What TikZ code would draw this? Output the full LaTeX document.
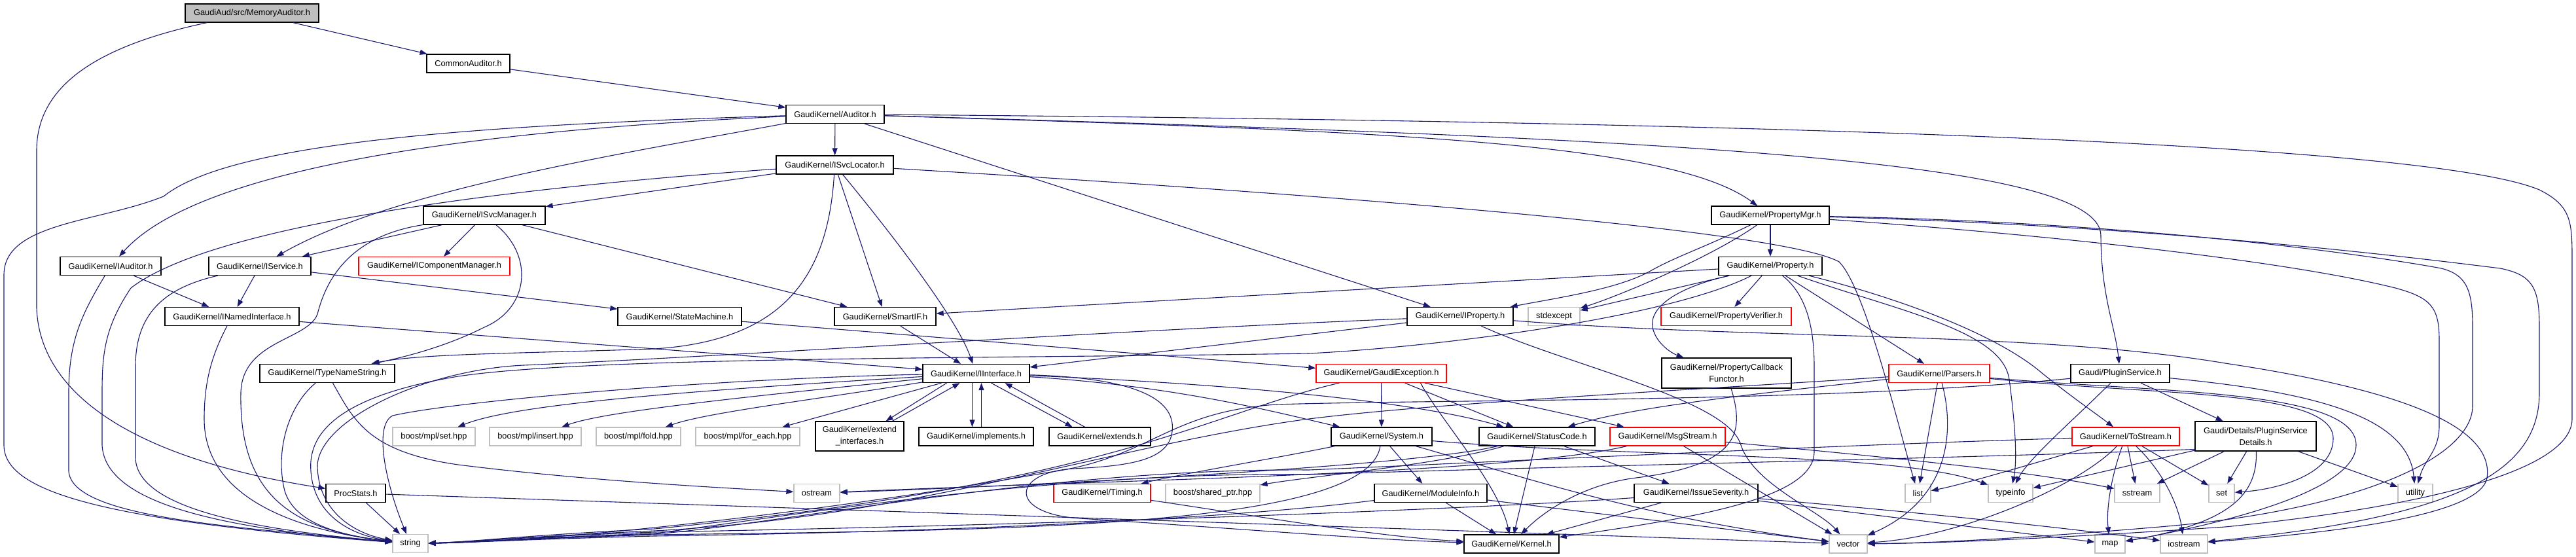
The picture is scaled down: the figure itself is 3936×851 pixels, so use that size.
\documentclass[tikz,border=0pt]{standalone}
\usepackage{fontspec}
\setmainfont{Liberation Sans}
\usetikzlibrary{arrows.meta}
\definecolor{eb}{RGB}{25,25,112}
\definecolor{grayb}{RGB}{191,191,191}
\definecolor{redb}{RGB}{255,0,0}
\newcommand{\nodefont}{\fontsize{12.8pt}{18pt}\selectfont}
\begin{document}
\begin{tikzpicture}[x=1pt,y=-1pt,
  nd/.style={draw=black,fill=white,line width=1.3pt,minimum height=28pt,inner sep=0pt,font=\nodefont,align=center},
  rednd/.style={nd,draw=redb},
  sysnd/.style={nd,draw=grayb},
  rootnd/.style={nd,fill=grayb},
  dep/.style={draw=eb,line width=1.1pt,-{Triangle[length=11pt,width=8pt]}}]
\fill[white] (0,0) rectangle (3936,851);
\useasboundingbox (0,0) rectangle (3936,851);

% ---------------- nodes ----------------
\node[rootnd,minimum width=204pt] (mem) at (385,20) {GaudiAud/src/MemoryAuditor.h};
\node[nd,minimum width=127pt] (common) at (715.5,97) {CommonAuditor.h};
\node[nd,minimum width=150pt] (auditor) at (1276,174.5) {GaudiKernel/Auditor.h};
\node[nd,minimum width=179pt] (isvcloc) at (1275.5,252) {GaudiKernel/ISvcLocator.h};
\node[nd,minimum width=186pt] (isvcmgr) at (740,329) {GaudiKernel/ISvcManager.h};
\node[nd,minimum width=180pt] (propmgr) at (2705,329) {GaudiKernel/PropertyMgr.h};
\node[nd,minimum width=154pt] (iauditor) at (169,406.5) {GaudiKernel/IAuditor.h};
\node[nd,minimum width=156pt] (iservice) at (397,406.5) {GaudiKernel/IService.h};
\node[rednd,minimum width=231pt] (icompmgr) at (663.5,406.5) {GaudiKernel/IComponentManager.h};
\node[nd,minimum width=158pt] (property) at (2705,406.5) {GaudiKernel/Property.h};
\node[nd,minimum width=205pt] (inamed) at (354.5,483.5) {GaudiKernel/INamedInterface.h};
\node[nd,minimum width=189pt] (statemachine) at (1038.5,483.5) {GaudiKernel/StateMachine.h};
\node[nd,minimum width=155pt] (smartif) at (1352.5,483.5) {GaudiKernel/SmartIF.h};
\node[nd,minimum width=162pt] (iproperty) at (2231,483.5) {GaudiKernel/IProperty.h};
\node[sysnd,minimum width=79pt] (stdexcept) at (2374.5,483.5) {stdexcept};
\node[rednd,minimum width=199pt] (propverifier) at (2637.5,483.5) {GaudiKernel/PropertyVerifier.h};
\node[nd,minimum width=206pt] (typename) at (500,570.5) {GaudiKernel/TypeNameString.h};
\node[nd,minimum width=163pt] (iinterface) at (1491.5,570.5) {GaudiKernel/IInterface.h};
\node[rednd,minimum width=199pt] (gaudiexc) at (2110.5,570.5) {GaudiKernel/GaudiException.h};
\node[nd,minimum width=198pt,minimum height=46pt] (propcb) at (2638,570) {GaudiKernel/PropertyCallback\\Functor.h};
\node[rednd,minimum width=154pt] (parsers) at (2963,570.5) {GaudiKernel/Parsers.h};
\node[nd,minimum width=151pt] (plugin) at (3239.5,570.5) {Gaudi/PluginService.h};
\node[sysnd,minimum width=126pt] (mplset) at (663,667) {boost/mpl/set.hpp};
\node[sysnd,minimum width=140pt] (mplinsert) at (818,667) {boost/mpl/insert.hpp};
\node[sysnd,minimum width=129pt] (mplfold) at (975.5,667) {boost/mpl/fold.hpp};
\node[sysnd,minimum width=159pt] (mplforeach) at (1142.5,667) {boost/mpl/for\_each.hpp};
\node[nd,minimum width=135pt,minimum height=45pt] (extendif) at (1313.5,666.5) {GaudiKernel/extend\\\_interfaces.h};
\node[nd,minimum width=175pt] (implements) at (1491.5,667) {GaudiKernel/implements.h};
\node[nd,minimum width=155pt] (extends) at (1680.5,667) {GaudiKernel/extends.h};
\node[nd,minimum width=154pt] (system) at (2111,667) {GaudiKernel/System.h};
\node[nd,minimum width=177pt] (statuscode) at (2348.5,667) {GaudiKernel/StatusCode.h};
\node[rednd,minimum width=176pt] (msgstream) at (2548,667) {GaudiKernel/MsgStream.h};
\node[rednd,minimum width=164pt] (tostream) at (3248,667) {GaudiKernel/ToStream.h};
\node[nd,minimum width=185pt,minimum height=45pt] (details) at (3446.5,666.5) {Gaudi/Details/PluginService\\Details.h};
\node[nd,minimum width=91pt] (procstats) at (543.5,753.5) {ProcStats.h};
\node[sysnd,minimum width=70pt] (ostream) at (1248,753.5) {ostream};
\node[rednd,minimum width=148pt] (timing) at (1684,753.5) {GaudiKernel/Timing.h};
\node[sysnd,minimum width=144pt] (sharedptr) at (1853,753.5) {boost/shared\_ptr.hpp};
\node[nd,minimum width=172pt] (modinfo) at (2186,753.5) {GaudiKernel/ModuleInfo.h};
\node[nd,minimum width=189pt] (issue) at (2591.5,753.5) {GaudiKernel/IssueSeverity.h};
\node[sysnd,minimum width=39pt] (list) at (2930.5,753.5) {list};
\node[sysnd,minimum width=68pt] (typeinfo) at (3072,753.5) {typeinfo};
\node[sysnd,minimum width=69pt] (sstream) at (3265.5,753.5) {sstream};
\node[sysnd,minimum width=39pt] (setstd) at (3394.5,753.5) {set};
\node[sysnd,minimum width=53pt] (utility) at (3690.5,753.5) {utility};
\node[sysnd,minimum width=54pt] (string) at (627,830.5) {string};
\node[nd,minimum width=145pt] (kernel) at (2309.5,831) {GaudiKernel/Kernel.h};
\node[sysnd,minimum width=58pt] (vector) at (2824,831) {vector};
\node[sysnd,minimum width=46pt] (map) at (3224,831) {map};
\node[sysnd,minimum width=72pt] (iostream) at (3337,831) {iostream};

% ---------------- edges ----------------
% MemoryAuditor, CommonAuditor
\draw[dep] (mem) -- (common);
\draw[dep] (mem) .. controls (150,70) and (56,130) .. (56,230) -- (56,470) .. controls (60,600) and (200,700) .. (procstats);
\draw[dep] (common) -- (auditor);
% Auditor
\draw[dep] (auditor) -- (isvcloc);
\draw[dep] (auditor) .. controls (700,200) and (300,260) .. (iauditor);
\draw[dep] (auditor) .. controls (950,235) and (600,290) .. (iservice);
\draw[dep] (auditor) -- (iproperty);
\draw[dep] (auditor) .. controls (2100,200) and (2550,215) .. (propmgr);
\draw[dep] (auditor) .. controls (2500,210) and (3210,240) .. (3210,360) .. controls (3210,450) and (3232,500) .. (plugin);
\draw[dep] (auditor) .. controls (700,192) and (350,220) .. (250,300) .. controls (150,340) and (6,340) .. (6,420) -- (6,680) .. controls (6,750) and (150,795) .. (string);
\draw[dep] (auditor) .. controls (2600,185) and (3700,215) .. (3880,290) .. controls (3930,315) and (3930,340) .. (3930,400) -- (3930,640) .. controls (3930,720) and (3700,775) .. (3400,805) .. controls (3100,825) and (2950,830) .. (vector);
% ISvcLocator
\draw[dep] (isvcloc) -- (isvcmgr);
\draw[dep] (isvcloc) .. controls (1340,330) and (1460,480) .. (iinterface);
\draw[dep] (isvcloc) -- (smartif);
\draw[dep] (isvcloc) .. controls (1265,420) and (1200,520) .. (1000,533) .. controls (800,540) and (640,540) .. (typename);
\draw[dep] (isvcloc) .. controls (800,285) and (330,340) .. (200,440) .. controls (160,500) and (156,540) .. (156,600) -- (156,680) .. controls (160,760) and (300,805) .. (string);
\draw[dep] (isvcloc) .. controls (2000,295) and (2720,350) .. (2810,400) .. controls (2850,440) and (2900,650) .. (list);
% ISvcManager
\draw[dep] (isvcmgr) -- (iservice);
\draw[dep] (isvcmgr) -- (icompmgr);
\draw[dep] (isvcmgr) .. controls (815,390) and (810,470) .. (740,500) .. controls (680,530) and (620,545) .. (typename);
\draw[dep] (isvcmgr) -- (smartif);
\draw[dep] (isvcmgr) .. controls (540,360) and (500,420) .. (485,480) .. controls (470,520) and (370,520) .. (368,600) .. controls (365,760) and (450,810) .. (string);
% IService, IAuditor, INamedInterface
\draw[dep] (iservice) -- (inamed);
\draw[dep] (iservice) -- (statemachine);
\draw[dep] (iservice) .. controls (250,440) and (207,480) .. (207,560) -- (207,700) .. controls (210,780) and (400,810) .. (string);
\draw[dep] (iauditor) -- (inamed);
\draw[dep] (iauditor) .. controls (125,480) and (105,520) .. (105,600) -- (105,720) .. controls (110,790) and (350,805) .. (string);
\draw[dep] (inamed) -- (iinterface);
\draw[dep] (inamed) .. controls (325,540) and (312,580) .. (312,640) .. controls (312,760) and (450,810) .. (string);
% StateMachine, SmartIF, TypeNameString, ProcStats
\draw[dep] (statemachine) -- (gaudiexc);
\draw[dep] (smartif) -- (iinterface);
\draw[dep] (typename) .. controls (440,620) and (420,690) .. (435,750) .. controls (450,800) and (520,818) .. (string);
\draw[dep] (typename) .. controls (540,640) and (560,690) .. (700,710) .. controls (900,735) and (1100,745) .. (ostream);
\draw[dep] (procstats) -- (string);
\draw[dep] (procstats) -- (vector);
% IInterface
\draw[dep] (iinterface) .. controls (1000,600) and (780,620) .. (mplset);
\draw[dep] (iinterface) .. controls (1100,610) and (920,630) .. (mplinsert);
\draw[dep] (iinterface) .. controls (1250,610) and (1080,630) .. (mplfold);
\draw[dep] (iinterface) -- (mplforeach);
\draw[dep] ([xshift=-45pt]iinterface.south) -- ([xshift=40pt]extendif.north);
\draw[dep] ([xshift=50pt]extendif.north) -- ([xshift=-25pt]iinterface.south);
\draw[dep] ([xshift=-6pt]iinterface.south) -- ([xshift=-6pt]implements.north);
\draw[dep] ([xshift=8pt]implements.north) -- ([xshift=8pt]iinterface.south);
\draw[dep] ([xshift=23pt]iinterface.south) -- ([xshift=-42pt]extends.north);
\draw[dep] ([xshift=-23pt]extends.north) -- ([xshift=44pt]iinterface.south);
\draw[dep] (iinterface) .. controls (1100,578) and (700,612) .. (600,635) .. controls (570,650) and (590,740) .. (string);
\draw[dep] (iinterface) .. controls (1800,590) and (1950,630) .. (system);
\draw[dep] (iinterface) .. controls (1850,585) and (2150,610) .. (statuscode);
\draw[dep] (iinterface) .. controls (1760,578) and (1800,620) .. (1790,665) .. controls (1780,705) and (1720,712) .. (1640,716) .. controls (1545,722) and (1540,785) .. (1650,792) .. controls (1900,808) and (2100,825) .. (kernel);
% PropertyMgr
\draw[dep] (propmgr) -- (property);
\draw[dep] (propmgr) .. controls (2600,380) and (2560,392) .. (2520,415) .. controls (2470,442) and (2380,455) .. (iproperty);
\draw[dep] (propmgr) .. controls (2620,390) and (2480,450) .. (stdexcept);
\draw[dep] (propmgr) .. controls (3300,345) and (3700,395) .. (3820,410) .. controls (3870,420) and (3880,440) .. (3880,500) -- (3880,600) .. controls (3880,720) and (3760,790) .. (iostream);
\draw[dep] (propmgr) .. controls (3300,340) and (3650,395) .. (3730,410) .. controls (3770,420) and (3778,445) .. (3778,500) -- (3778,620) .. controls (3778,700) and (3600,780) .. (3300,805) .. controls (3100,822) and (2950,830) .. (vector);
\draw[dep] (propmgr) .. controls (3150,360) and (3500,400) .. (3660,440) .. controls (3715,455) and (3727,470) .. (3727,520) -- (3727,650) .. controls (3727,690) and (3705,700) .. (utility);
% Property
\draw[dep] (property) -- (smartif);
\draw[dep] (property) -- (stdexcept);
\draw[dep] (property) -- (propverifier);
\draw[dep] (property) .. controls (2560,440) and (2520,470) .. (2525,500) .. controls (2530,525) and (2555,540) .. (propcb);
\draw[dep] (property) .. controls (2760,450) and (2772,500) .. (2772,560) -- (2772,690) .. controls (2772,760) and (2600,790) .. (kernel);
\draw[dep] (property) -- (parsers);
\draw[dep] (property) .. controls (2900,455) and (3050,510) .. (3120,570) .. controls (3170,610) and (3200,630) .. (tostream);
\draw[dep] (property) .. controls (2900,475) and (3060,505) .. (3070,580) .. controls (3078,640) and (3083,700) .. (typeinfo);
\draw[dep] (property) .. controls (2550,485) and (2200,530) .. (2000,540) .. controls (1500,548) and (900,545) .. (700,575) .. controls (520,605) and (470,660) .. (475,720) .. controls (480,790) and (540,818) .. (string);
% IProperty
\draw[dep] (iproperty) -- (iinterface);
\draw[dep] (iproperty) .. controls (1700,505) and (1100,545) .. (800,558) .. controls (650,565) and (490,640) .. (485,710) .. controls (485,780) and (540,815) .. (string);
\draw[dep] (iproperty) .. controls (2400,560) and (2640,610) .. (2660,680) .. controls (2680,740) and (2780,780) .. (vector);
\draw[dep] (iproperty) .. controls (2700,520) and (3100,505) .. (3400,555) .. controls (3700,600) and (3810,660) .. (3800,730) .. controls (3790,790) and (3550,815) .. (iostream);
% GaudiException
\draw[dep] (gaudiexc) -- (system);
\draw[dep] (gaudiexc) -- (statuscode);
\draw[dep] (gaudiexc) -- (msgstream);
\draw[dep] ([xshift=60pt]gaudiexc.south) .. controls (2200,640) and (2290,740) .. (kernel);
\draw[dep] (gaudiexc) .. controls (1850,630) and (1700,740) .. (1000,808) .. controls (800,818) and (720,828) .. (string);
% PropertyCallbackFunctor
\draw[dep] (propcb) .. controls (2665,660) and (2660,710) .. (2500,730) .. controls (2420,740) and (2360,780) .. (kernel);
% Parsers
\draw[dep] (parsers) .. controls (2700,600) and (2500,620) .. (statuscode);
\draw[dep] (parsers) -- (list);
\draw[dep] (parsers) .. controls (2985,650) and (2985,760) .. (vector);
\draw[dep] (parsers) .. controls (3300,605) and (3565,595) .. (3565,670) .. controls (3565,725) and (3480,748) .. (setstd);
\draw[dep] (parsers) .. controls (3300,600) and (3600,595) .. (3600,680) .. controls (3600,740) and (3450,790) .. (map);
\draw[dep] (parsers) .. controls (2600,595) and (2200,615) .. (2000,640) .. controls (1700,680) and (1400,790) .. (1000,811) .. controls (800,820) and (720,828) .. (string);
% PluginService
\draw[dep] (plugin) .. controls (3170,640) and (3100,700) .. (typeinfo);
\draw[dep] (plugin) -- (details);
\draw[dep] (plugin) .. controls (3550,600) and (3680,640) .. (utility);
\draw[dep] (plugin) .. controls (2800,615) and (2200,610) .. (1950,618) .. controls (1780,630) and (1760,700) .. (1600,722) .. controls (1300,775) and (900,825) .. (string);
% PluginServiceDetails
\draw[dep] (details) -- (typeinfo);
\draw[dep] (details) -- (sstream);
\draw[dep] (details) -- (setstd);
\draw[dep] (details) .. controls (3450,760) and (3400,800) .. (map);
\draw[dep] (details) -- (utility);
\draw[dep] ([yshift=-20pt]details.west) .. controls (3000,700) and (2400,712) .. (2000,725) .. controls (1600,720) and (1200,790) .. (1000,815) .. controls (800,822) and (720,829) .. (string);
% ToStream
\draw[dep] (tostream) .. controls (3100,710) and (3000,740) .. (list);
\draw[dep] (tostream) .. controls (3180,740) and (3000,820) .. (vector);
\draw[dep] (tostream) .. controls (3225,730) and (3218,780) .. (map);
\draw[dep] (tostream) -- (sstream);
\draw[dep] (tostream) .. controls (3310,725) and (3330,780) .. (iostream);
\draw[dep] (tostream) -- (setstd);
\draw[dep] (tostream) .. controls (2800,680) and (2300,705) .. (2000,718) .. controls (1600,715) and (1200,800) .. (1000,816) .. controls (800,823) and (720,829) .. (string);
% System
\draw[dep] (system) -- (modinfo);
\draw[dep] (system) .. controls (2300,720) and (2500,790) .. (vector);
\draw[dep] (system) .. controls (2500,700) and (2900,690) .. (typeinfo);
\draw[dep] (system) .. controls (1950,700) and (1800,725) .. (timing);
\draw[dep] (system) .. controls (2090,810) and (1500,810) .. (1000,817) .. controls (800,823) and (720,829) .. (string);
% StatusCode
\draw[dep] (statuscode) -- (kernel);
\draw[dep] (statuscode) -- (issue);
\draw[dep] (statuscode) .. controls (2150,715) and (1500,745) .. (ostream);
\draw[dep] (statuscode) .. controls (2200,710) and (2000,728) .. (sharedptr);
% MsgStream
\draw[dep] (msgstream) -- (vector);
\draw[dep] (msgstream) .. controls (2300,725) and (1700,733) .. (ostream);
\draw[dep] (msgstream) .. controls (2900,700) and (3100,720) .. (sstream);
% ModuleInfo
\draw[dep] (modinfo) -- (kernel);
\draw[dep] (modinfo) -- (vector);
\draw[dep] (modinfo) .. controls (1900,790) and (1500,812) .. (1000,819) .. controls (800,824) and (720,829) .. (string);
% IssueSeverity
\draw[dep] (issue) -- (kernel);
\draw[dep] (issue) -- (map);
\draw[dep] (issue) .. controls (2900,780) and (3150,805) .. (iostream);
\draw[dep] (issue) .. controls (2300,775) and (1700,800) .. (1000,813) .. controls (800,820) and (720,828) .. (string);
% Timing
\draw[dep] (timing) .. controls (1900,785) and (2100,820) .. (kernel);
\end{tikzpicture}
\end{document}
